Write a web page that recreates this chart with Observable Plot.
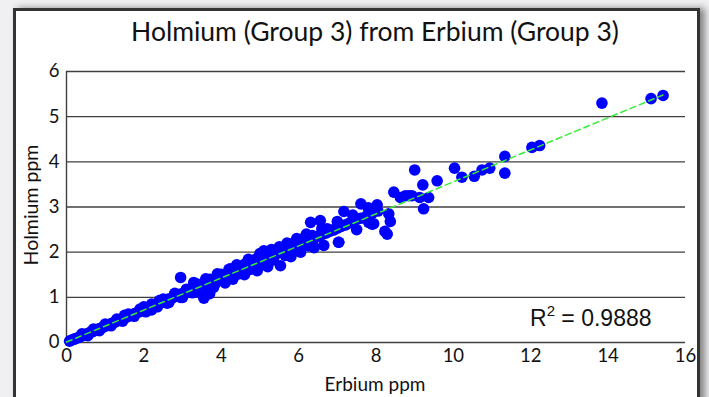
<!DOCTYPE html>
<html>
<head>
<meta charset="utf-8">
<script src="https://cdn.jsdelivr.net/npm/d3@7"></script>
<script src="https://cdn.jsdelivr.net/npm/@observablehq/plot@0.6"></script>
<style>
  html, body { margin: 0; padding: 0; background: #f0f0f2; width: 709px; height: 397px; overflow: hidden; }
  #panel { position: absolute; left: 13px; top: 8px; width: 681px; height: 420px; border: 3px solid #333; background: #fff; box-shadow: 5px 0 7px rgba(0,0,0,0.45); }
  #chart { position: absolute; left: 0; top: 0; }
  .txt { position: absolute; white-space: nowrap; color: #111; }
  #title { left: 0; width: 750px; text-align: center; top: 15px; font-family: Lato, sans-serif; font-size: 26.5px; }
  #xlabel { left: 0; width: 750px; text-align: center; top: 372px; font-family: Lato, sans-serif; font-size: 19px; }
  #ylabel { left: 30px; top: 205px; transform: translate(-50%, -50%) rotate(-90deg); font-family: Lato, sans-serif; font-size: 19.5px; }
  #r2 { left: 530px; top: 305px; font-family: "Liberation Sans", Arial, sans-serif; font-size: 23px; }
  #r2 sup { font-size: 15px; vertical-align: 10px; line-height: 0; }
</style>
</head>
<body>
<div id="panel"></div>
<div id="chart"></div>
<div class="txt" id="title">Holmium (Group 3) from Erbium (Group 3)</div>
<div class="txt" id="xlabel">Erbium ppm</div>
<div class="txt" id="ylabel">Holmium ppm</div>
<div class="txt" id="r2">R<sup>2</sup> = 0.9888</div>
<script>
// Erbium ppm (x) and Holmium ppm (y)
const er = [
  0.08,0.12,0.18,0.22,0.28,0.33,0.38,0.45,0.50,0.55,0.62,0.68,0.75,0.80,0.86,0.92,0.98,1.05,1.10,1.16,
  1.22,1.28,1.35,1.40,1.46,1.52,1.58,1.65,1.70,1.76,1.82,1.88,1.95,2.00,2.06,2.12,2.18,2.25,2.30,2.36,
  2.42,2.48,2.55,2.60,2.66,2.72,2.78,2.85,2.90,2.96,3.02,3.08,3.14,3.20,3.26,3.32,3.38,3.44,3.50,3.56,
  3.62,3.68,3.74,3.80,3.86,3.92,3.98,4.04,4.10,4.16,4.22,4.28,4.34,4.40,4.46,4.52,4.58,4.64,4.70,4.76,
  4.82,4.88,4.94,5.00,5.06,5.12,5.18,5.24,5.30,5.36,5.42,5.48,5.54,5.60,5.66,5.72,5.78,5.84,5.90,5.96,
  6.02,6.10,6.20,6.30,6.40,6.50,6.60,6.70,6.80,6.90,7.00,7.10,7.20,7.30,7.45,7.60,7.75,7.90,8.05,
  0.40,0.70,1.00,1.30,1.60,1.90,2.20,2.50,2.80,3.10,3.40,3.70,4.00,4.30,4.60,4.90,5.20,5.50,5.80,6.10,
  0.55,0.85,1.15,1.45,1.75,2.05,2.35,2.65,2.95,3.25,3.55,3.85,4.15,4.45,4.75,5.05,5.35,5.65,5.95,6.25,
  1.50,2.00,2.40,2.80,3.30,3.60,3.90,4.20,4.40,4.70,5.00,5.10,5.30,5.50,5.70,5.95,6.20,6.60,7.00,7.40,7.80,
  2.20,2.60,3.00,3.40,3.55,3.70,3.80,4.10,4.30,4.60,4.93,5.20,5.53,5.80,6.05,6.40,6.65,7.04,7.50,7.90,
  2.95,3.29,4.24,6.31,6.56,6.74,7.00,7.03,6.35,
  9.00,9.21,9.58,8.46,9.23,8.03,7.61,7.17,8.29,8.23,8.37,8.33,8.63,8.85,9.36,7.81,7.94,
  10.03,10.22,10.54,10.74,10.94,11.33,11.33,12.03,12.23,8.76,8.93,9.13,
  13.84,15.11,15.42
];
const ho = [
  0.03,0.05,0.07,0.08,0.10,0.12,0.14,0.16,0.18,0.20,0.23,0.24,0.27,0.29,0.31,0.33,0.35,0.38,0.40,0.42,
  0.44,0.46,0.49,0.50,0.53,0.55,0.57,0.60,0.61,0.64,0.66,0.68,0.71,0.72,0.75,0.77,0.79,0.81,0.84,0.85,
  0.88,0.90,0.92,0.95,0.97,0.98,1.01,1.03,1.06,1.07,1.09,1.12,1.13,1.15,1.18,1.19,1.22,1.24,1.26,1.28,
  1.31,1.32,1.35,1.37,1.39,1.41,1.43,1.46,1.47,1.51,1.52,1.55,1.57,1.58,1.61,1.64,1.65,1.68,1.69,1.72,
  1.75,1.76,1.79,1.81,1.83,1.85,1.88,1.89,1.92,1.94,1.96,1.99,2.00,2.03,2.05,2.07,2.09,2.12,2.13,2.16,
  2.18,2.21,2.24,2.28,2.31,2.35,2.39,2.42,2.46,2.49,2.53,2.57,2.60,2.64,2.69,2.75,2.80,2.86,2.91,
  0.19,0.30,0.41,0.52,0.63,0.74,0.85,0.96,1.07,1.18,1.29,1.40,1.51,1.62,1.73,1.85,1.96,2.07,2.18,2.29,
  0.15,0.26,0.37,0.47,0.58,0.68,0.79,0.89,1.00,1.10,1.20,1.31,1.41,1.52,1.62,1.72,1.83,1.93,2.04,2.14,
  0.60,0.79,0.93,1.09,1.30,1.41,1.52,1.62,1.72,1.84,1.97,2.03,2.06,2.12,2.20,2.30,2.40,2.52,2.68,2.82,2.98,
  0.72,0.87,1.00,1.12,0.98,1.08,1.22,1.32,1.40,1.50,1.59,1.68,1.70,1.90,2.00,2.10,2.15,2.22,2.50,2.62,
  1.44,1.33,1.63,2.66,2.70,2.52,2.59,2.22,2.37,
  3.82,3.49,3.58,3.33,2.96,3.05,3.07,2.90,2.40,2.46,2.68,2.85,3.21,3.25,3.21,2.66,2.63,
  3.86,3.66,3.68,3.82,3.86,4.12,3.75,4.32,4.36,3.25,3.25,3.21,
  5.30,5.40,5.47
];
const points = er.map((x, i) => ({x, y: ho[i]}));

// trend line end points
const trendX = [0.0, 15.42];
const trendY = [0.01, 5.48];
const trend = trendX.map((x, i) => ({x, y: trendY[i]}));

// tick values
const xTicks = [0, 2, 4, 6, 8, 10, 12, 14, 16];
const yTicks = [0, 1, 2, 3, 4, 5, 6];

const plot = Plot.plot({
  width: 709,
  height: 397,
  marginLeft: 66,
  marginRight: 24,
  marginTop: 71,
  marginBottom: 55,
  style: {background: "transparent", fontFamily: "Lato, sans-serif", fontSize: "18px", color: "#111"},
  x: {domain: [0, 16]},
  y: {domain: [0, 6]},
  marks: [
    Plot.gridY(yTicks, {stroke: "#404040", strokeOpacity: 1, strokeWidth: 1.4}),
    Plot.ruleX([0], {stroke: "#404040", strokeWidth: 1.4}),
    Plot.axisX(xTicks, {tickSize: 0, tickPadding: 6, label: null, fontSize: 18.5}),
    Plot.axisY(yTicks, {tickSize: 0, tickPadding: 7, label: null, fontSize: 18.5}),
    Plot.dot(points, {x: "x", y: "y", r: 5.8, fill: "#0000ff", stroke: "none"}),
    Plot.line(trend, {x: "x", y: "y", stroke: "#33ee33", strokeWidth: 1.5, strokeDasharray: "6,4"})
  ]
});
document.getElementById("chart").appendChild(plot);
</script>
</body>
</html>
